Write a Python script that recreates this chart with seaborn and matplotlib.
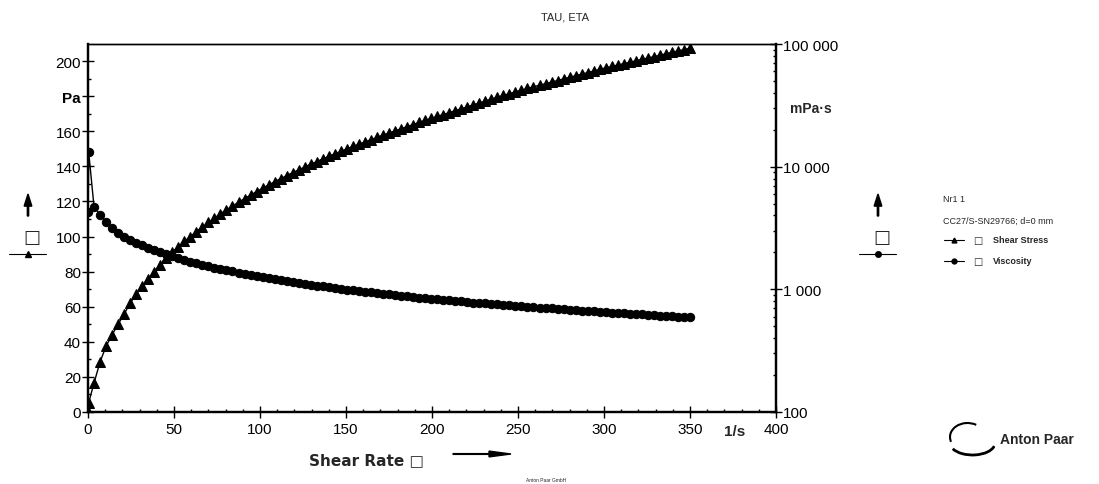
import numpy as np
import pandas as pd
import matplotlib
matplotlib.use('Agg')
import matplotlib.pyplot as plt
import matplotlib.ticker as mticker
from matplotlib.patches import Arc, FancyArrow
import seaborn as sns

# Данные (Anton Paar, TAU/ETA)
shear_rate = [0.1, 0.4, 3.5, 7, 10.5, 14, 17.5, 21, 24.5, 28, 31.5, 35, 38.5, 42, 45.5,
              49, 52.5, 56, 59.5, 63, 66.5, 70, 73.5, 77, 80.5, 84, 87.5, 91, 94.5, 98,
              101.5, 105, 108.5, 112, 115.5, 119, 122.5, 126, 129.5, 133, 136.5, 140,
              143.5, 147, 150.5, 154, 157.5, 161, 164.5, 168, 171.5, 175, 178.5, 182,
              185.5, 189, 192.5, 196, 199.5, 203, 206.5, 210, 213.5, 217, 220.5, 224,
              227.5, 231, 234.5, 238, 241.5, 245, 248.5, 252, 255.5, 259, 262.5, 266,
              269.5, 273, 276.5, 280, 283.5, 287, 290.5, 294, 297.5, 301, 304.5, 308,
              311.5, 315, 318.5, 322, 325.5, 329, 332.5, 336, 339.5, 343, 346.5, 350]

shear_stress = [0.43, 5.3, 16.5, 28.5, 37.5, 44, 50, 55.8, 62, 67, 72, 76, 80, 84, 88,
                91.2, 94.2, 97.2, 100, 102.8, 105.4, 108, 110.5, 113, 115.2, 117.4, 119.5,
                121.6, 123.6, 125.6, 127.5, 129.4, 131.2, 133, 134.7, 136.4, 138, 139.6,
                141.2, 142.7, 144.2, 145.7, 147.1, 148.5, 149.9, 151.3, 152.6, 153.9,
                155.2, 156.5, 157.8, 159, 160.2, 161.4, 162.6, 163.8, 165.0, 166.2, 167.3,
                168.4, 169.5, 170.6, 171.7, 172.8, 173.9, 175.0, 176.1, 177.2, 178.3,
                179.4, 180.4, 181.4, 182.4, 183.4, 184.4, 185.3, 186.2, 187.1, 188.0,
                188.9, 189.8, 190.7, 191.6, 192.5, 193.4, 194.3, 195.2, 196.1, 196.9,
                197.7, 198.5, 199.3, 200.1, 200.9, 201.7, 202.5, 203.3, 204.1, 204.9,
                205.7, 206.5, 207.3]

viscosity = [4290, 13150, 4714, 4071, 3571, 3143, 2857, 2657, 2531, 2393, 2286, 2171, 2078,
             2000, 1934, 1861, 1794, 1736, 1681, 1632, 1585, 1543, 1503, 1468, 1431, 1398,
             1366, 1336, 1308, 1282, 1256, 1232, 1209, 1188, 1166, 1146, 1127, 1108, 1090,
             1073, 1056, 1041, 1025, 1010, 996, 982, 969, 956, 943, 932, 920, 909, 897, 887,
             877, 867, 857, 848, 839, 830, 821, 812, 804, 796, 789, 781, 774, 767, 760, 754,
             747, 740, 734, 728, 722, 715, 709, 703, 698, 692, 686, 681, 676, 671, 666, 661,
             656, 651, 647, 642, 637, 633, 628, 624, 620, 616, 611, 607, 604, 600, 596, 592]

left_ticks = [0, 20, 40, 60, 80, 100, 120, 140, 160, 180, 200]
left_labels = ['0', '20', '40', '60', '80', '100', '120', '140', '160', 'Pa', '200']
right_ticks = [100, 1000, 10000, 100000]
right_labels = ['100', '1 000', '10 000', '100 000']
x_ticks = [0, 50, 100, 150, 200, 250, 300, 350, 400]

df = pd.DataFrame({'shear_rate': shear_rate, 'shear_stress': shear_stress,
                   'viscosity': viscosity})

sns.set_theme(style='white')
plt.rcParams['font.family'] = ['Liberation Sans', 'DejaVu Sans']

W, H = 1099, 485
fig = plt.figure(figsize=(W / 100, H / 100), dpi=100)
ax = fig.add_axes([88 / W, 1 - 413 / H, (776 - 88) / W, (413 - 45) / H])
ax2 = ax.twinx()

sns.lineplot(data=df, x='shear_rate', y='shear_stress', ax=ax, color='black',
             marker='^', markersize=6.5, markeredgecolor='black', linewidth=1)
sns.lineplot(data=df, x='shear_rate', y='viscosity', ax=ax2, color='black',
             marker='o', markersize=6, markeredgecolor='black', linewidth=1)

ax.set_xlim(0, 400)
ax.set_ylim(0, 209.7)
ax2.set_yscale('log')
ax2.set_ylim(100, 100000)

# оси и подписи
ax.set_xlabel('')
ax.set_ylabel('')
ax2.set_ylabel('')
ax.set_xticks(x_ticks)
ax.set_xticklabels([str(t) for t in x_ticks])
ax.set_yticks(left_ticks)
ax.set_yticklabels(left_labels)
ax.xaxis.set_minor_locator(mticker.MultipleLocator(10))
ax.yaxis.set_minor_locator(mticker.MultipleLocator(10))
ax2.set_yticks(right_ticks)
ax2.set_yticklabels(right_labels)
ax2.yaxis.set_minor_locator(mticker.LogLocator(subs=np.arange(2, 10)))
ax2.yaxis.set_minor_formatter(mticker.NullFormatter())

ax.tick_params(axis='both', which='major', direction='inout', length=8, width=1,
               labelsize=11, colors='black', pad=1)
ax.tick_params(axis='both', which='minor', direction='in', length=2.5, width=1,
               color='black')
ax.tick_params(axis='x', which='both', bottom=True, top=False)
ax.tick_params(axis='y', which='both', left=True, right=False)
ax.tick_params(axis='x', which='major', pad=3)
ax2.tick_params(axis='y', which='major', direction='inout', length=8, width=1,
                labelsize=11, colors='black', pad=1, right=True)
ax2.tick_params(axis='y', which='minor', direction='in', length=2.5, width=1,
                color='black', right=True)
for lbl in ax.get_yticklabels():
    if lbl.get_text() == 'Pa':
        lbl.set_fontweight('bold')

for a in (ax, ax2):
    for side in ('left', 'right', 'bottom'):
        a.spines[side].set_linewidth(1.6)
        a.spines[side].set_color('black')
    a.spines['top'].set_linewidth(1)
    a.spines['top'].set_color('black')
    a.grid(False)

ax.text(376, -0.052, '1/s', transform=ax.get_xaxis_transform(), ha='center',
        va='center', fontsize=11, fontweight='bold')
ax2.text(1.02, 30000, 'mPa\u00b7s', transform=ax2.get_yaxis_transform(), ha='left',
         va='center', fontsize=10, fontweight='bold')

# подписи вне осей
fig.text(565 / W, 1 - 17 / H, 'TAU, ETA', ha='center', va='center', fontsize=8)
fig.text(366 / W, 1 - 461 / H, 'Shear Rate \u25a1', ha='center', va='center',
         fontsize=11, fontweight='bold', family=['DejaVu Sans'])
fig.add_artist(FancyArrow(453 / W, 1 - 455 / H, 58 / W, 0, width=0.0015,
                          head_width=0.012, head_length=0.02, length_includes_head=True,
                          color='black', transform=fig.transFigure))
fig.text(546 / W, 1 - 481 / H, 'Anton Paar GmbH', ha='center', va='center', fontsize=3.5)

# левый и правый указатели серий
for xc, mk in ((28, '^'), (878, 'o')):
    fig.add_artist(FancyArrow(xc / W, 1 - 217 / H, 0, 22 / H, width=0.0012,
                              head_width=0.007, head_length=0.025,
                              length_includes_head=True, color='black',
                              transform=fig.transFigure))
    fig.text((xc + 4) / W, 1 - 238 / H, '\u25a1', ha='center', va='center',
             fontsize=13, family=['DejaVu Sans'])
    fig.add_artist(plt.Line2D([(xc - 19) / W, (xc + 18) / W], [1 - 255 / H, 1 - 255 / H],
                              color='black', linewidth=0.8, transform=fig.transFigure))
    fig.add_artist(plt.Line2D([xc / W], [1 - 255 / H], marker=mk, markersize=4,
                              color='black', transform=fig.transFigure))

# легенда справа
fig.text(943 / W, 1 - 200 / H, 'Nr1 1', ha='left', va='center', fontsize=6.5)
fig.text(943 / W, 1 - 221 / H, 'CC27/S-SN29766; d=0 mm', ha='left', va='center',
         fontsize=6.5)
for yy, mk, name in ((241, '^', 'Shear Stress'), (262, 'o', 'Viscosity')):
    fig.add_artist(plt.Line2D([944 / W, 964 / W], [1 - yy / H, 1 - yy / H],
                              color='black', linewidth=0.8, transform=fig.transFigure))
    fig.add_artist(plt.Line2D([954 / W], [1 - yy / H], marker=mk, markersize=3.5,
                              color='black', transform=fig.transFigure))
    fig.text(978 / W, 1 - yy / H, '\u25a1', ha='center', va='center', fontsize=7,
             family=['DejaVu Sans'])
    fig.text(993 / W, 1 - yy / H, name, ha='left', va='center', fontsize=6.5,
             fontweight='bold')

# логотип Anton Paar
logo = fig.add_axes([945 / W, 1 - 462 / H, 50 / W, 40 / H])
logo.set_xlim(0, 1)
logo.set_ylim(0, 1)
logo.axis('off')
logo.add_patch(Arc((0.55, 0.45), 0.9, 0.6, angle=0, theta1=200, theta2=350,
                   color='black', linewidth=2))
logo.add_patch(Arc((0.45, 0.6), 0.7, 0.7, angle=0, theta1=60, theta2=200,
                   color='black', linewidth=1.5))
fig.text(1000 / W, 1 - 440 / H, 'Anton Paar', ha='left', va='center', fontsize=10,
         fontweight='bold')

fig.savefig('out.png', dpi=100, facecolor='white')
